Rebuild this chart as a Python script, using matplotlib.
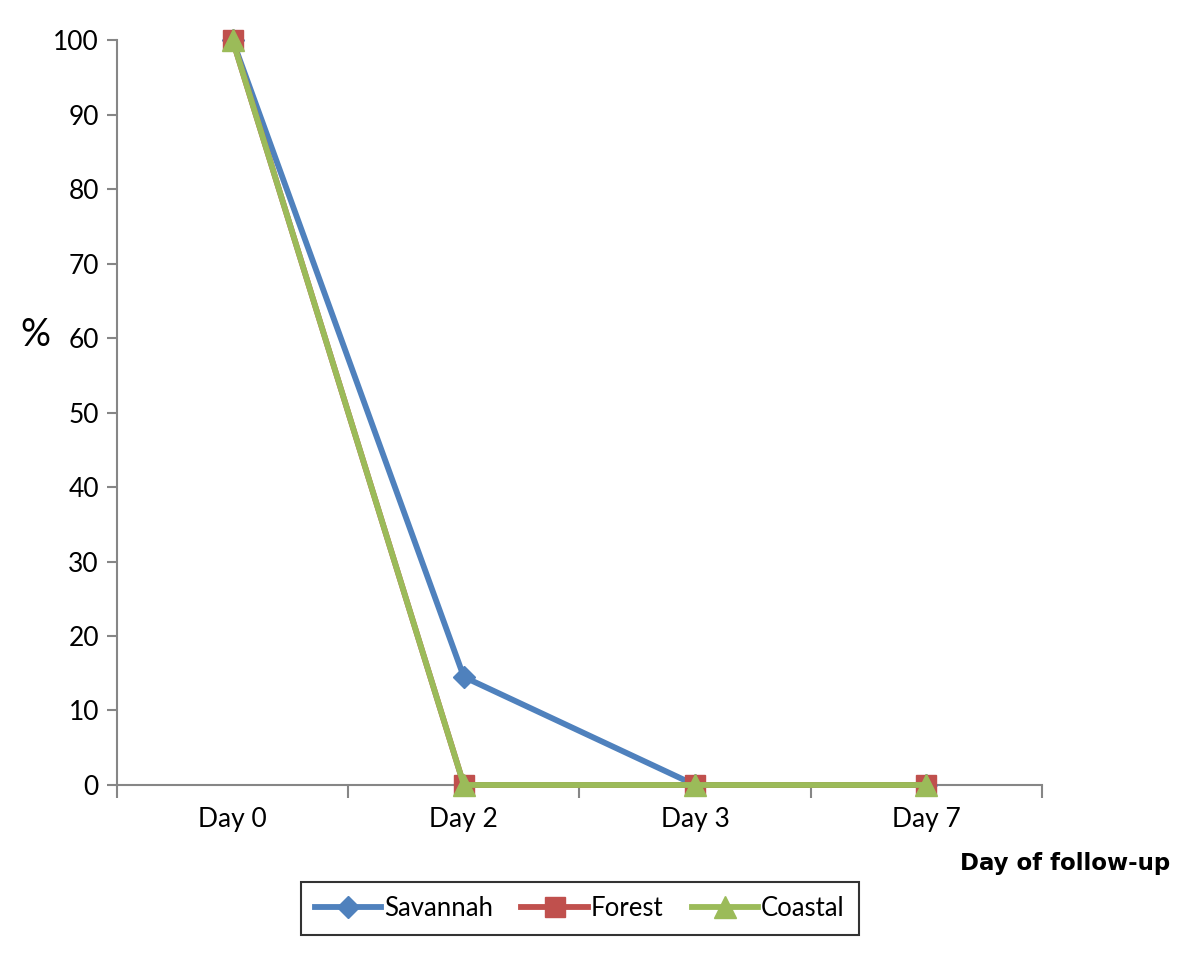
import matplotlib
matplotlib.use("Agg")
import matplotlib.pyplot as plt

# === DATA ===
days = ["Day 0", "Day 2", "Day 3", "Day 7"]
savannah = [100, 14.5, 0, 0]
forest = [100, 0, 0, 0]
coastal = [100, 0, 0, 0]

plt.rcParams['font.family'] = ['Lato', 'DejaVu Sans']

fig = plt.figure(figsize=(12, 9.58), dpi=100)
ax = fig.add_axes([0.0975, 0.1806, 0.7708, 0.7776])

x = list(range(len(days)))
ax.plot(x, savannah, color='#4F81BD', lw=4.2, marker='D', ms=11, label='Savannah', zorder=3, clip_on=False)
ax.plot(x, forest, color='#C0504D', lw=4.2, marker='s', ms=15, label='Forest', zorder=4, clip_on=False)
ax.plot(x, coastal, color='#9BBB59', lw=4.2, marker='^', ms=16, label='Coastal', zorder=5, clip_on=False)

ax.set_xlim(-0.5, 3.5)
ax.set_ylim(0, 100)
ax.set_yticks(range(0, 101, 10))
ax.set_xticks(x)
ax.set_xticklabels(days)
ax.set_xticks([-0.5, 0.5, 1.5, 2.5, 3.5], minor=True)
ax.tick_params(axis='x', which='major', length=0, pad=16, labelsize=19)
ax.tick_params(axis='x', which='minor', length=9, color='#868686', width=1.5, direction='out')
ax.tick_params(axis='y', length=7, color='#868686', width=1.5, labelsize=19, pad=6)

for s in ['top', 'right']:
    ax.spines[s].set_visible(False)
for s in ['left', 'bottom']:
    ax.spines[s].set_color('#868686')
    ax.spines[s].set_linewidth(1.5)
    ax.spines[s].set_zorder(1)

ax.set_ylabel('%', fontsize=27, rotation=0, labelpad=0)
ax.yaxis.set_label_coords(-0.088, 0.58)
fig.text(0.975, 0.099, 'Day of follow-up', ha='right', va='center',
         fontsize=16.5, fontweight='bold', family=['DejaVu Sans'])

leg = fig.legend(loc='center', bbox_to_anchor=(0.483, 0.052), ncol=3, frameon=True,
                 fancybox=False, edgecolor='black', fontsize=18.5, handlelength=2.6,
                 handletextpad=0.1, columnspacing=1.1, borderpad=0.55)
leg.get_frame().set_linewidth(1.5)

fig.savefig('out.png', dpi=100)
